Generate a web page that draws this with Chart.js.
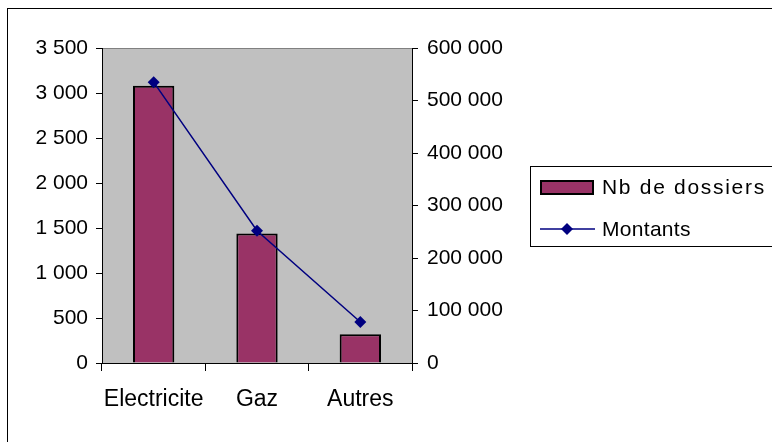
<!DOCTYPE html>
<html>
<head>
<meta charset="utf-8">
<script src="https://cdn.jsdelivr.net/npm/chart.js@4/dist/chart.umd.min.js"></script>
<style>
  html, body { margin: 0; padding: 0; background: #fff; }
  #wrap { width: 772px; height: 442px; }
</style>
</head>
<body>
<div id="wrap"><canvas id="graphique" width="772" height="442"></canvas></div>
<script>
const categories = ["Electricite", "Gaz", "Autres"];
const nbDossiers = [3080, 1440, 320];
const montants = [535000, 252000, 78000];

const ticksGauche = { min: 0, max: 3500, pas: 500 };
const ticksDroite = { min: 0, max: 600000, pas: 100000 };

const police = "'Liberation Sans', Arial, sans-serif";

function formatMilliers(v) {
    return String(v).replace(/\B(?=(\d{3})+(?!\d))/g, " ");
}

// fond gris de la zone de tracé + cadre extérieur
const fondPlugin = {
    id: "fond",
    beforeDraw(chart) {
        const ctx = chart.ctx;
        const a = chart.chartArea;
        ctx.save();
        ctx.fillStyle = "#fff";
        ctx.fillRect(0, 0, chart.width, chart.height);
        ctx.strokeStyle = "#000";
        ctx.lineWidth = 1;
        ctx.strokeRect(7.5, 8.5, 900, 900);
        ctx.fillStyle = "#C0C0C0";
        ctx.fillRect(a.left, a.top, a.right - a.left, a.bottom - a.top);
        ctx.strokeStyle = "#808080";
        ctx.beginPath();
        ctx.moveTo(a.left, a.top + 0.5);
        ctx.lineTo(a.right, a.top + 0.5);
        ctx.stroke();
        ctx.restore();
    }
};

// légende dessinée à la main (style Excel)
const legendePlugin = {
    id: "legendeExcel",
    afterDraw(chart) {
        const ctx = chart.ctx;
        const ds = chart.data.datasets;
        ctx.save();
        ctx.fillStyle = "#fff";
        ctx.fillRect(530, 166, 300, 80);
        ctx.strokeStyle = "#000";
        ctx.lineWidth = 1;
        ctx.strokeRect(530.5, 166.5, 300, 80);

        // barre
        ctx.fillStyle = ds[0].backgroundColor;
        ctx.fillRect(541, 181, 52, 13);
        ctx.lineWidth = 2;
        ctx.strokeStyle = "#000";
        ctx.strokeRect(541, 181, 52, 13);

        // ligne + losange
        ctx.strokeStyle = ds[1].borderColor;
        ctx.lineWidth = 1.5;
        ctx.beginPath();
        ctx.moveTo(540, 229);
        ctx.lineTo(595, 229);
        ctx.stroke();
        ctx.fillStyle = ds[1].borderColor;
        ctx.beginPath();
        ctx.moveTo(567, 223);
        ctx.lineTo(573, 229);
        ctx.lineTo(567, 235);
        ctx.lineTo(561, 229);
        ctx.closePath();
        ctx.fill();

        ctx.fillStyle = "#000";
        ctx.font = "21px " + police;
        ctx.textBaseline = "middle";
        ctx.textAlign = "left";
        ctx.letterSpacing = "1.7px";
        ctx.fillText(ds[0].label, 602, 188);
        ctx.letterSpacing = "0.3px";
        ctx.fillText(ds[1].label, 602, 230);
        ctx.restore();
    }
};

new Chart(document.getElementById("graphique").getContext("2d"), {
    type: "bar",
    data: {
        labels: categories,
        datasets: [{
            label: "Nb de dossiers",
            data: nbDossiers,
            yAxisID: "y",
            backgroundColor: "#993366",
            borderColor: "#000",
            borderWidth: 2,
            barPercentage: 0.4,
            categoryPercentage: 1,
            order: 1
        }, {
            type: "line",
            label: "Montants",
            data: montants,
            yAxisID: "y1",
            borderColor: "#000080",
            backgroundColor: "#000080",
            borderWidth: 1.5,
            pointStyle: "rectRot",
            pointRadius: 6,
            pointBorderWidth: 0,
            fill: false,
            tension: 0,
            order: 0
        }]
    },
    options: {
        responsive: false,
        animation: false,
        layout: { padding: { top: 48, left: 0, right: 0, bottom: 0 } },
        plugins: {
            legend: { display: false },
            tooltip: { enabled: false }
        },
        scales: {
            x: {
                grid: { display: true, drawOnChartArea: false, drawTicks: true, tickLength: 8, color: "#000", offset: true },
                border: { color: "#000", width: 1 },
                ticks: { color: "#000", font: { family: police, size: 23 }, padding: 15, maxRotation: 0, autoSkip: false },
                afterFit(s) { s.height = 79; }
            },
            y: {
                position: "left",
                min: ticksGauche.min,
                max: ticksGauche.max,
                grid: { drawOnChartArea: false, tickLength: 6, color: "#000" },
                border: { color: "#000", width: 1 },
                ticks: {
                    stepSize: ticksGauche.pas,
                    color: "#000",
                    font: { family: police, size: 21 },
                    padding: 8,
                    callback: v => formatMilliers(v)
                },
                afterFit(s) { s.width = 102; }
            },
            y1: {
                position: "right",
                min: ticksDroite.min,
                max: ticksDroite.max,
                grid: { drawOnChartArea: false, tickLength: 6, color: "#000" },
                border: { color: "#000", width: 1 },
                ticks: {
                    stepSize: ticksDroite.pas,
                    color: "#000",
                    font: { family: police, size: 21 },
                    padding: 9,
                    callback: v => formatMilliers(v)
                },
                afterFit(s) { s.width = 360; }
            }
        }
    },
    plugins: [fondPlugin, legendePlugin]
});
</script>
</body>
</html>
